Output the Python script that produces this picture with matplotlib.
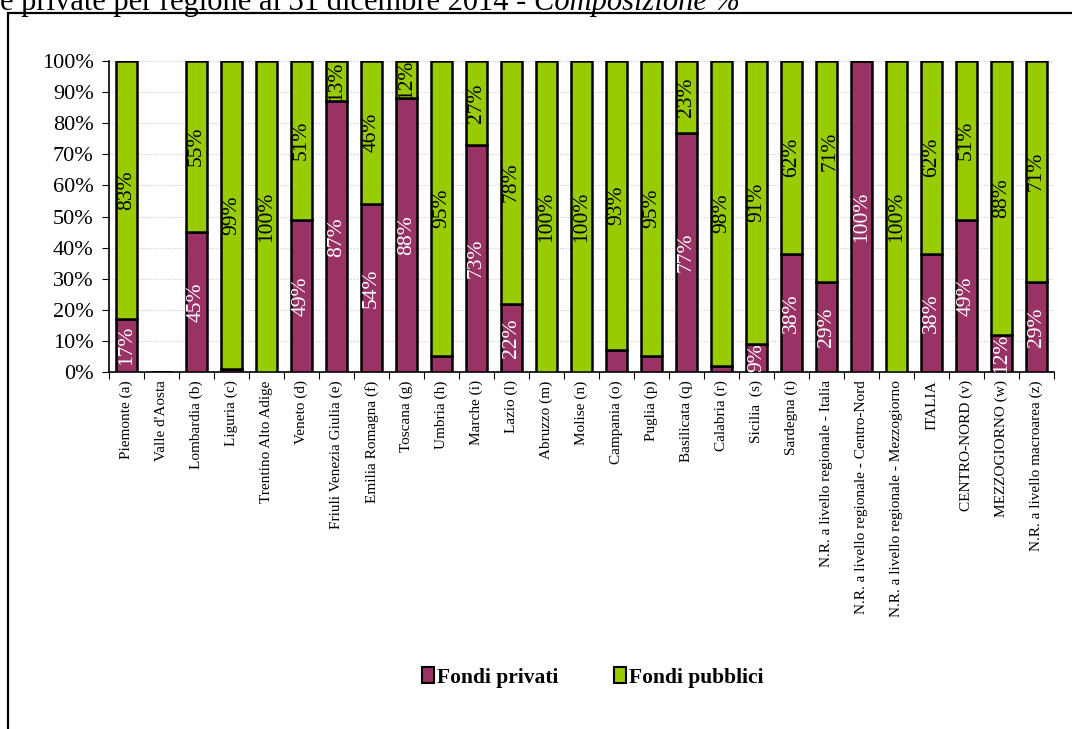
import numpy as np
import matplotlib
matplotlib.use('Agg')
from matplotlib import pyplot as plt
from matplotlib.patches import Rectangle, Patch

plt.rcParams['font.family'] = ['Liberation Serif', 'DejaVu Serif']

categories = ['Piemonte (a)', "Valle d'Aosta", 'Lombardia (b)', 'Liguria (c)',
              'Trentino Alto Adige', 'Veneto (d)', 'Friuli Venezia Giulia (e)',
              'Emilia Romagna (f)', 'Toscana (g)', 'Umbria (h)', 'Marche (i)',
              'Lazio (l)', 'Abruzzo (m)', 'Molise (n)', 'Campania (o)', 'Puglia (p)',
              'Basilicata (q)', 'Calabria (r)', 'Sicilia  (s)', 'Sardegna (t)',
              'N.R. a livello regionale - Italia',
              'N.R. a livello regionale - Centro-Nord',
              'N.R. a livello regionale - Mezzogiorno',
              'ITALIA', 'CENTRO-NORD (v)', 'MEZZOGIORNO (w)', 'N.R. a livello macroarea (z)']

# percentuali (Valle d'Aosta senza dati)
privati = [17, 0, 45, 1, 0, 49, 87, 54, 88, 5, 73, 22, 0, 0, 7, 5, 77, 2, 9, 38,
           29, 100, 0, 38, 49, 12, 29]
pubblici = [83, 0, 55, 99, 100, 51, 13, 46, 12, 95, 27, 78, 100, 100, 93, 95, 23, 98,
            91, 62, 71, 0, 100, 62, 51, 88, 71]

col_priv = '#993366'
col_pubb = '#99CC00'

x = np.arange(len(categories))
priv = np.array(privati, dtype=float)
pubb = np.array(pubblici, dtype=float)

fig = plt.figure(figsize=(10.72, 7.29), dpi=100)
ax = fig.add_axes([0.1017, 0.4897, 0.8816, 0.4266])

ax.bar(x, priv, width=0.62, color=col_priv, edgecolor='black', linewidth=1.8, zorder=3)
ax.bar(x, pubb, width=0.62, bottom=priv, color=col_pubb, edgecolor='black', linewidth=1.8, zorder=3)

# etichette dati
for i in range(len(x)):
    if priv[i] >= 9:
        ax.text(x[i], priv[i] / 2, '%d%%' % priv[i], rotation=90, ha='center', va='center',
                color='white', fontsize=15.5, zorder=4)
    if pubb[i] > 0:
        yy = priv[i] + pubb[i] / 2
        xx = x[i]
        if i == 20:
            # etichetta spostata a mano nell'originale
            yy = 71
            xx = x[i] + 0.1
        ax.text(xx, yy, '%d%%' % pubb[i], rotation=90, ha='center', va='center',
                color='black', fontsize=15.5, zorder=4)

ax.set_xlim(-0.5, len(x) - 0.5)
ax.set_ylim(0, 100)
ax.set_yticks(np.arange(0, 101, 10))
ax.set_yticklabels(['%d%%' % v for v in range(0, 101, 10)], fontsize=16)
ax.yaxis.grid(True, color='#c8c8c8', linestyle=':', linewidth=0.8, zorder=0)

ax.set_xticks(x)
ax.set_xticklabels(categories, rotation=90, fontsize=11)
ax.set_xticks(np.arange(-0.5, len(x), 1), minor=True)
ax.tick_params(axis='x', which='major', length=0, pad=6)
ax.tick_params(axis='x', which='minor', length=5, direction='out', width=0.8)
ax.tick_params(axis='y', length=5, width=0.8, pad=6)

for s in ['top', 'right']:
    ax.spines[s].set_visible(False)
ax.spines['left'].set_linewidth(1.2)
ax.spines['bottom'].set_linewidth(1.2)

handles = [Patch(facecolor=col_priv, edgecolor='black', linewidth=1.5),
           Patch(facecolor=col_pubb, edgecolor='black', linewidth=1.5)]
fig.legend(handles, ['Fondi privati', 'Fondi pubblici'], loc='center',
           bbox_to_anchor=(0.553, 0.071), ncol=2, frameon=False,
           prop={'size': 15.5, 'weight': 'bold'}, handlelength=0.55, handleheight=0.8,
           handletextpad=0.15, columnspacing=2.6)

# cornice e titolo tagliato in alto
fig.patches.append(Rectangle((0.0075, -0.2), 1.5, 1.182, transform=fig.transFigure,
                             fill=False, edgecolor='black', linewidth=1.6))
t1 = fig.text(0.0, 0.986, 'e private per regione al 31 dicembre 2014 - ', fontsize=22,
              ha='left', va='baseline')
fig.canvas.draw()
bb = t1.get_window_extent().transformed(fig.transFigure.inverted())
fig.text(bb.x1, 0.986, 'Composizione %', fontsize=22, style='italic',
         ha='left', va='baseline')

fig.savefig('out.png', dpi=100)
